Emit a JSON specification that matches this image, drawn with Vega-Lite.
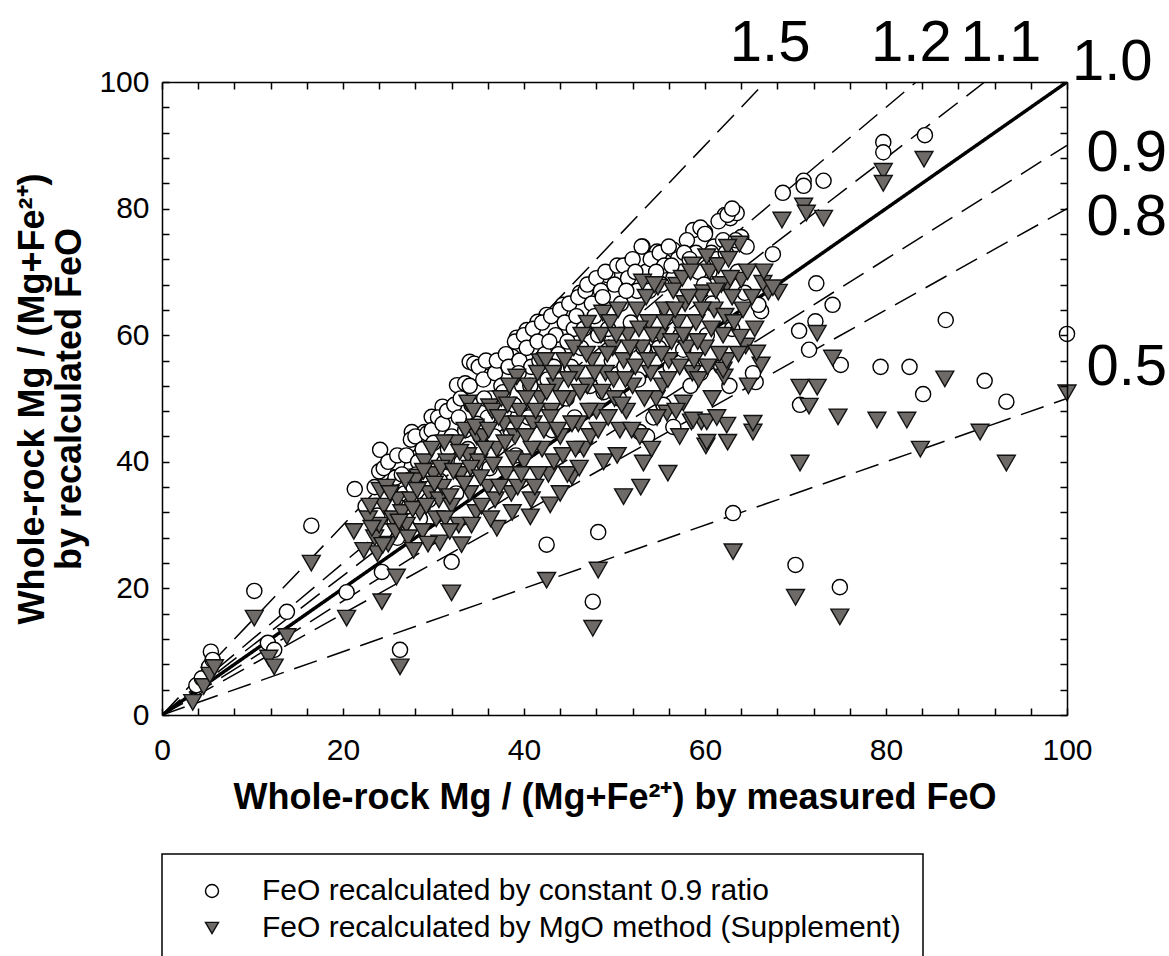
{
"$schema": "https://vega.github.io/schema/vega-lite/v6.json",
"width": 905, "height": 633,
"autosize": {"type": "none"},
"padding": {"left": 162, "top": 82, "right": 102, "bottom": 241},
"background": "white",
"config": {
  "view": {"stroke": null},
  "font": "Liberation Sans",
  "axis": {"domainColor": "black", "domainWidth": 1.5, "grid": false, "labelColor": "black", "titleColor": "black", "labelFont": "Liberation Sans", "titleFont": "Liberation Sans"},
  "legend": {"strokeWidth": 1.5}
},
"datasets": {
  "lines": [
    {"k":"1.5","x":0,"y":0},{"k":"1.5","x":66.667,"y":100},
    {"k":"1.2","x":0,"y":0},{"k":"1.2","x":83.333,"y":100},
    {"k":"1.1","x":0,"y":0},{"k":"1.1","x":90.909,"y":100},
    {"k":"1.0","x":0,"y":0},{"k":"1.0","x":100,"y":100},
    {"k":"0.9","x":0,"y":0},{"k":"0.9","x":100,"y":90},
    {"k":"0.8","x":0,"y":0},{"k":"0.8","x":100,"y":80},
    {"k":"0.5","x":0,"y":0},{"k":"0.5","x":100,"y":50}
  ],
  "labels": [
    {"t":"1.5","x":67.2,"y":103.3},{"t":"1.2","x":82.8,"y":103.3},{"t":"1.1","x":92.7,"y":103.3},
    {"t":"1.0","x":105,"y":100.3},{"t":"0.9","x":106.6,"y":85.9},{"t":"0.8","x":106.6,"y":75.8},{"t":"0.5","x":106.6,"y":52.1}
  ],
  "pts": [
    {"s":"c","x":3.8,"y":4.7},{"s":"c","x":4.4,"y":5.8},{"s":"c","x":5.2,"y":7.6},{"s":"c","x":5.4,"y":10},{"s":"c","x":5.6,"y":8.7},
    {"s":"c","x":10.2,"y":19.6},{"s":"c","x":11.7,"y":11.4},{"s":"c","x":12.4,"y":10.3},{"s":"c","x":13.8,"y":16.3},{"s":"c","x":16.5,"y":29.9},
    {"s":"c","x":20.4,"y":19.4},{"s":"c","x":21.3,"y":35.7},{"s":"c","x":24.3,"y":22.6},{"s":"c","x":26.3,"y":10.3},{"s":"c","x":26,"y":28},
    {"s":"c","x":32,"y":24.2},{"s":"c","x":42.5,"y":26.9},{"s":"c","x":48.2,"y":28.9},{"s":"c","x":47.6,"y":17.9},{"s":"c","x":63.1,"y":31.9},
    {"s":"c","x":70,"y":23.7},{"s":"c","x":74.9,"y":20.2},{"s":"c","x":93.3,"y":49.5},{"s":"c","x":70.5,"y":49},{"s":"c","x":84.1,"y":50.7},
    {"s":"c","x":90.9,"y":52.8},{"s":"c","x":79.4,"y":55},{"s":"c","x":82.6,"y":55},{"s":"c","x":75,"y":55.3},{"s":"c","x":71.5,"y":57.7},
    {"s":"c","x":70.4,"y":60.7},{"s":"c","x":72.2,"y":62.2},{"s":"c","x":72.3,"y":68.2},{"s":"c","x":74.1,"y":64.8},{"s":"c","x":86.6,"y":62.4},
    {"s":"c","x":100,"y":60.2},{"s":"c","x":65.6,"y":52.6},{"s":"c","x":66.2,"y":63.8},{"s":"c","x":63,"y":61},{"s":"c","x":67.5,"y":72.8},
    {"s":"c","x":68.6,"y":82.5},{"s":"c","x":70.9,"y":84.4},{"s":"c","x":70.9,"y":83.6},{"s":"c","x":73.1,"y":84.4},{"s":"c","x":79.7,"y":90.5},
    {"s":"c","x":79.7,"y":88.9},{"s":"c","x":84.3,"y":91.6},{"s":"c","x":64,"y":75.5},{"s":"c","x":62.8,"y":78.5},{"s":"c","x":63.5,"y":79.3},
    {"s":"c","x":60,"y":76.3},{"s":"c","x":62.2,"y":79},{"s":"c","x":58.7,"y":76.6},{"s":"c","x":53.1,"y":74},{"s":"c","x":54.7,"y":73.2},
    {"s":"c","x":56.5,"y":73.5},{"s":"c","x":51.7,"y":71.4},{"s":"c","x":49.2,"y":69.5},{"s":"c","x":46.2,"y":66.7},{"s":"c","x":44.3,"y":64.8},
    {"s":"c","x":42.5,"y":63.2},{"s":"c","x":64.4,"y":66.7},{"s":"c","x":65.9,"y":64.8},{"s":"c","x":59.7,"y":55},{"s":"c","x":58.6,"y":55},
    {"s":"c","x":65.3,"y":54},{"s":"c","x":57.6,"y":57.7},{"s":"c","x":56.5,"y":45.5},{"s":"c","x":52.8,"y":44.7},{"s":"c","x":24.1,"y":41.9},
    {"s":"c","x":26,"y":39.8},{"s":"c","x":27.6,"y":44.7},{"s":"c","x":29,"y":44.7},{"s":"c","x":29.8,"y":47.1},{"s":"c","x":31,"y":48.7},
    {"s":"c","x":32.6,"y":52.1},{"s":"c","x":33.5,"y":52.4},{"s":"c","x":34,"y":55.8},{"s":"c","x":35.9,"y":55.8},{"s":"c","x":38.7,"y":56.6},
    {"s":"c","x":39.2,"y":59.6},{"s":"c","x":40.3,"y":60.8},{"s":"c","x":41.5,"y":62.1},
    {"s":"c","x":22.5,"y":33},{"s":"c","x":23.5,"y":36},{"s":"c","x":24,"y":38.5},{"s":"c","x":24.5,"y":39},{"s":"c","x":25,"y":40},
    {"s":"c","x":25.3,"y":36},{"s":"c","x":25.8,"y":37.5},{"s":"c","x":23.8,"y":31.5},{"s":"c","x":24.6,"y":29},{"s":"c","x":26,"y":41},
    {"s":"c","x":26.5,"y":38},{"s":"c","x":25.5,"y":33},{"s":"c","x":26.8,"y":35},
    {"s":"c","x":27,"y":41},{"s":"c","x":27.5,"y":43.5},{"s":"c","x":28,"y":44},{"s":"c","x":28.3,"y":40},{"s":"c","x":28.8,"y":42},
    {"s":"c","x":29,"y":38},{"s":"c","x":29.3,"y":44.5},{"s":"c","x":29.8,"y":45},{"s":"c","x":30,"y":43},{"s":"c","x":30.2,"y":39},
    {"s":"c","x":27.8,"y":36},{"s":"c","x":29.5,"y":34},{"s":"c","x":30.5,"y":47},{"s":"c","x":28.5,"y":31},
    {"s":"c","x":31,"y":46},{"s":"c","x":31.5,"y":48},{"s":"c","x":32,"y":44},{"s":"c","x":32.3,"y":49},{"s":"c","x":32.8,"y":47},
    {"s":"c","x":33,"y":50},{"s":"c","x":33.5,"y":45},{"s":"c","x":34,"y":52},{"s":"c","x":34.2,"y":49},{"s":"c","x":31.2,"y":40},
    {"s":"c","x":33.2,"y":38},{"s":"c","x":34.5,"y":55.5},{"s":"c","x":33.8,"y":42},{"s":"c","x":32.5,"y":35},
    {"s":"c","x":35,"y":55},{"s":"c","x":35.5,"y":53},{"s":"c","x":35.8,"y":56},{"s":"c","x":36.3,"y":50},{"s":"c","x":36.8,"y":54},
    {"s":"c","x":37,"y":56},{"s":"c","x":37.5,"y":52},{"s":"c","x":38,"y":57},{"s":"c","x":38.3,"y":55},{"s":"c","x":36,"y":47},
    {"s":"c","x":37.8,"y":48},{"s":"c","x":35.2,"y":44},{"s":"c","x":38.5,"y":45},
    {"s":"c","x":39,"y":59},{"s":"c","x":39.5,"y":56},{"s":"c","x":40,"y":60},{"s":"c","x":40.3,"y":58},{"s":"c","x":40.8,"y":55},
    {"s":"c","x":41,"y":61},{"s":"c","x":41.5,"y":59},{"s":"c","x":42,"y":62},{"s":"c","x":42.3,"y":57},{"s":"c","x":39.8,"y":52},
    {"s":"c","x":41.2,"y":50},{"s":"c","x":40.5,"y":47},{"s":"c","x":42.6,"y":53},
    {"s":"c","x":43,"y":63},{"s":"c","x":43.5,"y":60},{"s":"c","x":44,"y":64},{"s":"c","x":44.5,"y":62},{"s":"c","x":45,"y":65},
    {"s":"c","x":45.5,"y":61},{"s":"c","x":46,"y":66},{"s":"c","x":43.8,"y":57},{"s":"c","x":45.2,"y":55},{"s":"c","x":44.7,"y":50},
    {"s":"c","x":46.3,"y":58},{"s":"c","x":46.8,"y":67},
    {"s":"c","x":47,"y":68},{"s":"c","x":47.5,"y":65},{"s":"c","x":48,"y":69},{"s":"c","x":48.5,"y":67},{"s":"c","x":49,"y":70},
    {"s":"c","x":49.5,"y":64},{"s":"c","x":50,"y":68},{"s":"c","x":50.3,"y":71},{"s":"c","x":48.2,"y":60},{"s":"c","x":49.7,"y":56},
    {"s":"c","x":47.3,"y":52},{"s":"c","x":50.5,"y":50},
    {"s":"c","x":51,"y":71},{"s":"c","x":51.5,"y":69},{"s":"c","x":52,"y":72},{"s":"c","x":52.5,"y":67},{"s":"c","x":53,"y":74},
    {"s":"c","x":53.5,"y":70},{"s":"c","x":54,"y":72},{"s":"c","x":51.8,"y":62},{"s":"c","x":53.2,"y":58},{"s":"c","x":52.6,"y":53},
    {"s":"c","x":54.3,"y":47},{"s":"c","x":53.6,"y":44},
    {"s":"c","x":55,"y":73},{"s":"c","x":55.5,"y":71},{"s":"c","x":56,"y":74},{"s":"c","x":56.5,"y":69},{"s":"c","x":57,"y":72},
    {"s":"c","x":57.5,"y":70},{"s":"c","x":58,"y":75},{"s":"c","x":55.8,"y":64},{"s":"c","x":57.3,"y":60},{"s":"c","x":56.2,"y":55},
    {"s":"c","x":58.4,"y":52},{"s":"c","x":55.4,"y":49},
    {"s":"c","x":59,"y":73},{"s":"c","x":59.5,"y":77},{"s":"c","x":60,"y":76},{"s":"c","x":60.5,"y":70},{"s":"c","x":61,"y":74},
    {"s":"c","x":61.5,"y":78},{"s":"c","x":62,"y":75},{"s":"c","x":62.5,"y":79},{"s":"c","x":63,"y":80},{"s":"c","x":60.2,"y":60},
    {"s":"c","x":61.8,"y":55},{"s":"c","x":59.5,"y":54},{"s":"c","x":62.7,"y":52},
    {"s":"c","x":25.7,"y":30.5},{"s":"c","x":27.3,"y":33},{"s":"c","x":28.1,"y":38},{"s":"c","x":30.7,"y":37},{"s":"c","x":31.6,"y":42},
    {"s":"c","x":33.1,"y":40},{"s":"c","x":34.8,"y":46},{"s":"c","x":35.6,"y":50},{"s":"c","x":36.7,"y":44},{"s":"c","x":37.7,"y":51},
    {"s":"c","x":38.9,"y":49},{"s":"c","x":39.4,"y":54},{"s":"c","x":40.7,"y":52},{"s":"c","x":41.7,"y":56},{"s":"c","x":42.8,"y":59},
    {"s":"c","x":43.3,"y":55},{"s":"c","x":44.8,"y":59},{"s":"c","x":45.8,"y":63},{"s":"c","x":46.6,"y":61},{"s":"c","x":47.8,"y":63},
    {"s":"c","x":48.7,"y":66},{"s":"c","x":49.3,"y":61},{"s":"c","x":50.7,"y":65},{"s":"c","x":51.3,"y":67},{"s":"c","x":52.3,"y":70},
    {"s":"c","x":53.8,"y":67},{"s":"c","x":54.6,"y":70},{"s":"c","x":55.2,"y":68},{"s":"c","x":56.3,"y":71},{"s":"c","x":57.7,"y":73},
    {"s":"c","x":58.3,"y":72},{"s":"c","x":59.3,"y":70},{"s":"c","x":60.7,"y":73},{"s":"c","x":61.3,"y":72},{"s":"c","x":62.3,"y":73},
    {"s":"c","x":63.4,"y":75},{"s":"c","x":64.6,"y":74},{"s":"c","x":57.9,"y":62},{"s":"c","x":54.9,"y":58},{"s":"c","x":51.1,"y":55},
    {"s":"c","x":48.8,"y":51},{"s":"c","x":45.6,"y":47},{"s":"c","x":43.1,"y":45},{"s":"c","x":39.1,"y":41},{"s":"c","x":36.2,"y":39},
    {"s":"c","x":60.8,"y":65},{"s":"c","x":63.6,"y":70},{"s":"c","x":59.9,"y":68},

    {"s":"t","x":3.4,"y":2},{"s":"t","x":4.6,"y":4.5},{"s":"t","x":5.3,"y":6.3},{"s":"t","x":5.8,"y":7.5},{"s":"t","x":10.2,"y":15.3},
    {"s":"t","x":11.8,"y":9},{"s":"t","x":12.4,"y":7.6},{"s":"t","x":13.8,"y":12.4},{"s":"t","x":16.5,"y":24},{"s":"t","x":20.4,"y":15.3},
    {"s":"t","x":21.2,"y":29},{"s":"t","x":24.3,"y":17.9},{"s":"t","x":25.9,"y":21.8},{"s":"t","x":26.3,"y":7.6},{"s":"t","x":32,"y":19.3},
    {"s":"t","x":42.5,"y":21.3},{"s":"t","x":48.2,"y":22.9},{"s":"t","x":47.6,"y":13.7},{"s":"t","x":63.1,"y":25.8},{"s":"t","x":70,"y":18.6},
    {"s":"t","x":74.9,"y":15.5},{"s":"t","x":74.7,"y":47.1},{"s":"t","x":79,"y":46.6},{"s":"t","x":82.3,"y":46.6},{"s":"t","x":83.8,"y":42},
    {"s":"t","x":90.4,"y":44.7},{"s":"t","x":93.3,"y":39.8},{"s":"t","x":70.5,"y":39.8},{"s":"t","x":65.3,"y":44.7},{"s":"t","x":62.4,"y":45.8},
    {"s":"t","x":62.5,"y":43.1},{"s":"t","x":60.1,"y":42.5},{"s":"t","x":58.5,"y":46.3},{"s":"t","x":59.6,"y":46.3},{"s":"t","x":55.9,"y":38.2},
    {"s":"t","x":52.9,"y":36},{"s":"t","x":51,"y":34.5},{"s":"t","x":53.2,"y":39.8},{"s":"t","x":30.7,"y":27.2},{"s":"t","x":33.1,"y":26.9},
    {"s":"t","x":37,"y":29.5},{"s":"t","x":42.9,"y":33.2},{"s":"t","x":45.3,"y":37.6},{"s":"t","x":40.7,"y":31.3},{"s":"t","x":84.2,"y":87.8},
    {"s":"t","x":79.7,"y":85.9},{"s":"t","x":79.7,"y":84},{"s":"t","x":73.1,"y":78.5},{"s":"t","x":70.9,"y":80.4},{"s":"t","x":71.2,"y":79.3},
    {"s":"t","x":68.5,"y":78.2},{"s":"t","x":63.8,"y":74.4},{"s":"t","x":68.1,"y":66.8},{"s":"t","x":67,"y":66.8},{"s":"t","x":72.4,"y":60.3},
    {"s":"t","x":64.5,"y":58.3},{"s":"t","x":66.2,"y":55.3},{"s":"t","x":74.1,"y":56.4},{"s":"t","x":86.5,"y":53.1},{"s":"t","x":100,"y":50.9},
    {"s":"t","x":72.4,"y":51.8},{"s":"t","x":70.5,"y":51.8},{"s":"t","x":71.5,"y":48.8},{"s":"t","x":64,"y":68.7},{"s":"t","x":62.1,"y":53.4},
    {"s":"t","x":53.1,"y":68.4},{"s":"t","x":54.8,"y":67.6},{"s":"t","x":56.9,"y":67.9},{"s":"t","x":58.6,"y":71.1},{"s":"t","x":60.2,"y":72.4},
    {"s":"t","x":62.5,"y":73.9},{"s":"t","x":59.8,"y":66.7},{"s":"t","x":62.4,"y":67.9},{"s":"t","x":66.4,"y":68.2},{"s":"t","x":48.7,"y":63.5},
    {"s":"t","x":47,"y":61.9},{"s":"t","x":63.9,"y":59.7},{"s":"t","x":65.7,"y":57.2},{"s":"t","x":62,"y":54.5},{"s":"t","x":55.8,"y":47.7},
    {"s":"t","x":57.6,"y":49.3},{"s":"t","x":58.7,"y":46.6},{"s":"t","x":60.2,"y":46.3},{"s":"t","x":65.3,"y":46.1},{"s":"t","x":60.2,"y":43.1},
    {"s":"t","x":33.8,"y":49.3},{"s":"t","x":36.2,"y":48.7},{"s":"t","x":39.2,"y":53.4},{"s":"t","x":41.8,"y":55.8},{"s":"t","x":34.8,"y":43.9},
    {"s":"t","x":28.3,"y":37.6},{"s":"t","x":24.1,"y":35.5},
    {"s":"t","x":23.5,"y":28},{"s":"t","x":24,"y":30},{"s":"t","x":24.5,"y":33},{"s":"t","x":25,"y":27},{"s":"t","x":25.5,"y":31},
    {"s":"t","x":26,"y":34},{"s":"t","x":23.8,"y":25.5},{"s":"t","x":24.8,"y":36},{"s":"t","x":25.8,"y":29},{"s":"t","x":26.5,"y":32},{"s":"t","x":22.8,"y":31},
    {"s":"t","x":27,"y":30},{"s":"t","x":27.5,"y":34},{"s":"t","x":28,"y":37},{"s":"t","x":28.5,"y":32},{"s":"t","x":29,"y":40},
    {"s":"t","x":29.5,"y":35},{"s":"t","x":30,"y":38},{"s":"t","x":30.3,"y":31},{"s":"t","x":27.2,"y":28},{"s":"t","x":28.8,"y":29},{"s":"t","x":29.8,"y":42},{"s":"t","x":30.6,"y":34},
    {"s":"t","x":31,"y":36},{"s":"t","x":31.5,"y":40},{"s":"t","x":32,"y":33},{"s":"t","x":32.5,"y":43},{"s":"t","x":33,"y":38},
    {"s":"t","x":33.5,"y":45},{"s":"t","x":34,"y":35},{"s":"t","x":31.3,"y":31},{"s":"t","x":33.8,"y":41},{"s":"t","x":34.4,"y":48},{"s":"t","x":32.8,"y":30},{"s":"t","x":34.7,"y":32},
    {"s":"t","x":35,"y":40},{"s":"t","x":35.5,"y":44},{"s":"t","x":36,"y":36},{"s":"t","x":36.5,"y":48},{"s":"t","x":37,"y":42},
    {"s":"t","x":37.5,"y":50},{"s":"t","x":38,"y":38},{"s":"t","x":35.3,"y":33},{"s":"t","x":36.8,"y":34},{"s":"t","x":37.8,"y":46},{"s":"t","x":38.4,"y":52},{"s":"t","x":38.6,"y":35},
    {"s":"t","x":39,"y":44},{"s":"t","x":39.5,"y":48},{"s":"t","x":40,"y":40},{"s":"t","x":40.5,"y":52},{"s":"t","x":41,"y":46},
    {"s":"t","x":41.5,"y":54},{"s":"t","x":42,"y":42},{"s":"t","x":39.3,"y":36},{"s":"t","x":40.8,"y":34},{"s":"t","x":41.8,"y":50},{"s":"t","x":42.4,"y":56},{"s":"t","x":42.7,"y":38},
    {"s":"t","x":43,"y":48},{"s":"t","x":43.5,"y":52},{"s":"t","x":44,"y":44},{"s":"t","x":44.5,"y":56},{"s":"t","x":45,"y":50},
    {"s":"t","x":45.5,"y":58},{"s":"t","x":46,"y":46},{"s":"t","x":43.3,"y":40},{"s":"t","x":44.8,"y":38},{"s":"t","x":45.8,"y":54},{"s":"t","x":46.4,"y":60},{"s":"t","x":46.6,"y":42},
    {"s":"t","x":47,"y":52},{"s":"t","x":47.5,"y":56},{"s":"t","x":48,"y":48},{"s":"t","x":48.5,"y":60},{"s":"t","x":49,"y":54},
    {"s":"t","x":49.5,"y":62},{"s":"t","x":50,"y":50},{"s":"t","x":47.3,"y":44},{"s":"t","x":48.8,"y":40},{"s":"t","x":49.8,"y":58},{"s":"t","x":50.4,"y":64},{"s":"t","x":50.6,"y":45},
    {"s":"t","x":51,"y":56},{"s":"t","x":51.5,"y":60},{"s":"t","x":52,"y":52},{"s":"t","x":52.5,"y":64},{"s":"t","x":53,"y":58},
    {"s":"t","x":53.5,"y":66},{"s":"t","x":54,"y":54},{"s":"t","x":51.3,"y":48},{"s":"t","x":52.8,"y":44},{"s":"t","x":53.8,"y":62},{"s":"t","x":54.4,"y":68},{"s":"t","x":54.6,"y":50},
    {"s":"t","x":55,"y":60},{"s":"t","x":55.5,"y":64},{"s":"t","x":56,"y":56},{"s":"t","x":56.5,"y":67},{"s":"t","x":57,"y":62},
    {"s":"t","x":57.5,"y":69},{"s":"t","x":58,"y":58},{"s":"t","x":55.3,"y":52},{"s":"t","x":56.8,"y":48},{"s":"t","x":57.8,"y":65},{"s":"t","x":58.4,"y":70},{"s":"t","x":58.6,"y":54},
    {"s":"t","x":59,"y":62},{"s":"t","x":59.5,"y":66},{"s":"t","x":60,"y":58},{"s":"t","x":60.5,"y":70},{"s":"t","x":61,"y":64},
    {"s":"t","x":61.5,"y":71},{"s":"t","x":62,"y":60},{"s":"t","x":59.3,"y":53},{"s":"t","x":60.8,"y":50},{"s":"t","x":61.8,"y":68},{"s":"t","x":62.6,"y":72},{"s":"t","x":63,"y":66},{"s":"t","x":62.4,"y":56},
    {"s":"t","x":23.2,"y":29.5},{"s":"t","x":24.4,"y":26.8},{"s":"t","x":25.2,"y":35},{"s":"t","x":26.2,"y":30.5},{"s":"t","x":26.9,"y":37},
    {"s":"t","x":27.7,"y":32.5},{"s":"t","x":28.2,"y":35.5},{"s":"t","x":28.9,"y":38.5},{"s":"t","x":29.2,"y":33},{"s":"t","x":30.1,"y":36.5},
    {"s":"t","x":30.8,"y":39},{"s":"t","x":31.2,"y":43},{"s":"t","x":31.8,"y":34.5},{"s":"t","x":32.2,"y":38.5},{"s":"t","x":32.9,"y":41.5},
    {"s":"t","x":33.4,"y":36.5},{"s":"t","x":34.1,"y":39},{"s":"t","x":34.6,"y":45.5},{"s":"t","x":35.2,"y":37.5},{"s":"t","x":35.7,"y":42},
    {"s":"t","x":36.1,"y":45},{"s":"t","x":36.6,"y":39.5},{"s":"t","x":37.2,"y":47},{"s":"t","x":37.3,"y":36},{"s":"t","x":37.9,"y":43},
    {"s":"t","x":38.2,"y":49},{"s":"t","x":38.8,"y":40.5},{"s":"t","x":39.2,"y":46},{"s":"t","x":39.7,"y":38},{"s":"t","x":40.2,"y":44},
    {"s":"t","x":40.3,"y":50},{"s":"t","x":40.9,"y":42},{"s":"t","x":41.3,"y":48},{"s":"t","x":41.6,"y":38},{"s":"t","x":42.2,"y":45},
    {"s":"t","x":42.5,"y":51},{"s":"t","x":42.9,"y":47},{"s":"t","x":43.2,"y":54},{"s":"t","x":43.7,"y":45},{"s":"t","x":44.2,"y":50},
    {"s":"t","x":44.3,"y":41},{"s":"t","x":44.9,"y":53},{"s":"t","x":45.3,"y":46},{"s":"t","x":45.7,"y":42},{"s":"t","x":46.2,"y":51},
    {"s":"t","x":46.9,"y":57},{"s":"t","x":47.2,"y":48},{"s":"t","x":47.8,"y":54},{"s":"t","x":48.2,"y":45},{"s":"t","x":48.6,"y":51},
    {"s":"t","x":49.2,"y":57},{"s":"t","x":49.3,"y":47},{"s":"t","x":49.9,"y":53},{"s":"t","x":50.2,"y":60},{"s":"t","x":50.8,"y":49},
    {"s":"t","x":51.2,"y":53},{"s":"t","x":51.7,"y":58},{"s":"t","x":51.9,"y":45},{"s":"t","x":52.3,"y":55},{"s":"t","x":52.7,"y":61},
    {"s":"t","x":53.3,"y":50},{"s":"t","x":53.7,"y":56},{"s":"t","x":54.2,"y":60},{"s":"t","x":54.7,"y":47},{"s":"t","x":55.2,"y":57},
    {"s":"t","x":55.6,"y":62},{"s":"t","x":55.9,"y":53},{"s":"t","x":56.3,"y":59},{"s":"t","x":56.7,"y":64},{"s":"t","x":57.2,"y":55},
    {"s":"t","x":57.6,"y":60},{"s":"t","x":58.2,"y":66},{"s":"t","x":58.8,"y":56},{"s":"t","x":59.2,"y":59},{"s":"t","x":59.7,"y":64},
    {"s":"t","x":60.3,"y":55},{"s":"t","x":60.7,"y":61},{"s":"t","x":61.2,"y":67},{"s":"t","x":61.6,"y":57},{"s":"t","x":62.2,"y":63},
    {"s":"t","x":62.8,"y":69},{"s":"t","x":63.2,"y":62},{"s":"t","x":63.7,"y":57},{"s":"t","x":64.2,"y":64},{"s":"t","x":64.7,"y":70},
    {"s":"t","x":65.2,"y":66},{"s":"t","x":65.5,"y":61},{"s":"t","x":66.5,"y":70},{"s":"t","x":67.5,"y":67.5},{"s":"t","x":64.8,"y":52},
    {"s":"t","x":61.3,"y":47},{"s":"t","x":57.2,"y":44},{"s":"t","x":54.1,"y":42},{"s":"t","x":50.3,"y":41},{"s":"t","x":46.1,"y":39},
    {"s":"t","x":44,"y":35},{"s":"t","x":41.2,"y":36},{"s":"t","x":38.7,"y":32},{"s":"t","x":36.3,"y":31},{"s":"t","x":34.2,"y":30},
    {"s":"t","x":31.8,"y":29},{"s":"t","x":29.4,"y":27},{"s":"t","x":27.8,"y":26},{"s":"t","x":22.3,"y":26},{"s":"t","x":23,"y":33}
  ]
},
"layer": [
  {
    "data": {"name": "lines"},
    "mark": {"type": "line", "stroke": "black", "clip": true},
    "encoding": {
      "x": {"field": "x", "type": "quantitative", "scale": {"domain": [0, 100], "nice": false},
            "axis": {"orient": "top", "values": [0,4,8,12,16,20,24,28,32,36,40,44,48,52,56,60,64,68,72,76,80,84,88,92,96,100], "tickSize": -7, "tickColor": "black", "tickWidth": 1.5, "labels": false, "title": null, "zindex": 1}},
      "y": {"field": "y", "type": "quantitative", "scale": {"domain": [0, 100], "nice": false},
            "axis": {"orient": "right", "values": [0,4,8,12,16,20,24,28,32,36,40,44,48,52,56,60,64,68,72,76,80,84,88,92,96,100], "tickSize": -7, "tickColor": "black", "tickWidth": 1.5, "labels": false, "title": null, "zindex": 1}},
      "detail": {"field": "k"},
      "strokeWidth": {"condition": {"test": "datum.k === '1.0'", "value": 3.5}, "value": 1.5},
      "strokeDash": {"condition": {"test": "datum.k === '1.0'", "value": [1, 0]}, "value": [24, 11]}
    }
  },
  {
    "encoding": {
      "x": {"field": "x", "type": "quantitative", "scale": {"domain": [0, 100], "nice": false},
            "axis": {"orient": "bottom", "values": [0,4,8,12,16,20,24,28,32,36,40,44,48,52,56,60,64,68,72,76,80,84,88,92,96,100],
                     "tickSize": -7, "tickColor": "black", "tickWidth": 1.5, "zindex": 1,
                     "labelExpr": "datum.value % 20 === 0 ? datum.label : ''", "labelOverlap": false,
                     "labelFlush": false, "labelFontSize": 30, "labelPadding": 27,
                     "title": "Whole-rock Mg / (Mg+Fe²⁺) by measured FeO", "titleFontSize": 36, "titleFontWeight": "bold", "titlePadding": 15}},
      "y": {"field": "y", "type": "quantitative", "scale": {"domain": [0, 100], "nice": false},
            "axis": {"orient": "left", "values": [0,4,8,12,16,20,24,28,32,36,40,44,48,52,56,60,64,68,72,76,80,84,88,92,96,100],
                     "tickSize": -7, "tickColor": "black", "tickWidth": 1.5, "zindex": 1,
                     "labelExpr": "datum.value % 20 === 0 ? datum.label : ''", "labelOverlap": false,
                     "labelFlush": false, "labelFontSize": 30, "labelPadding": 20,
                     "title": ["Whole-rock Mg / (Mg+Fe²⁺)", "by recalculated FeO"], "titleFontSize": 36, "titleFontWeight": "bold", "titleLineHeight": 37, "titlePadding": 10}}
    },
    "layer": [
      {"data": {"name": "labels"},
       "mark": {"type": "text", "fontSize": 58, "font": "Liberation Sans", "align": "center", "baseline": "alphabetic", "color": "black"},
       "encoding": {"text": {"field": "t"}}},
      {"data": {"name": "pts"},
       "encoding": {
         "shape": {"field": "s", "type": "nominal", "scale": {"domain": ["c", "t"], "range": ["circle", "triangle-down"]},
                   "legend": {"orient": "none", "legendX": 0, "legendY": 772, "title": null, "direction": "vertical",
                              "strokeColor": "black", "fillColor": "white", "padding": 22, "symbolOffset": 13, "labelOffset": 35,
                              "labelFontSize": 30, "labelFont": "Liberation Sans", "labelColor": "black", "symbolSize": 170,
                              "symbolStrokeWidth": 1.4, "rowPadding": 7, "labelLimit": 1000,
                              "labelExpr": "datum.value === 'c' ? 'FeO recalculated by constant 0.9 ratio' : 'FeO recalculated by MgO method (Supplement)'"}},
         "fill": {"field": "s", "type": "nominal", "scale": {"domain": ["c", "t"], "range": ["white", "#6d6a67"]}},
         "stroke": {"field": "s", "type": "nominal", "scale": {"domain": ["c", "t"], "range": ["black", "#111111"]}}
       },
       "layer": [
         {"transform": [{"filter": "datum.s === 'c'"}], "mark": {"type": "point", "filled": true, "strokeWidth": 1.4, "size": 230, "opacity": 1}},
         {"transform": [{"filter": "datum.s === 't'"}], "mark": {"type": "point", "filled": true, "strokeWidth": 1.4, "size": 320, "opacity": 1}}
       ]
      }
    ]
  }
],
"resolve": {"scale": {"x": "independent", "y": "independent"}}
}
